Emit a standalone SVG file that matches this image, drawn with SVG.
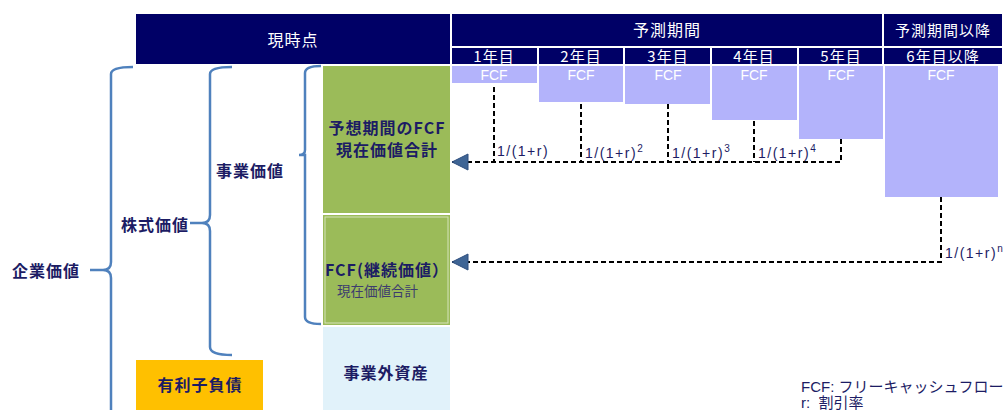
<svg xmlns="http://www.w3.org/2000/svg" width="1008" height="410" viewBox="0 0 1008 410">
<defs>
<style>
.hd{fill:#000066}
.ht{fill:#fff;font-family:"Noto Sans CJK JP","Liberation Sans",sans-serif;text-anchor:middle;letter-spacing:1px}
.bar{fill:#b3b3fb}
.ft{fill:#fff;font-family:"Liberation Sans",sans-serif;font-size:14px;text-anchor:middle}
.lb{fill:#1c1c64;font-family:"Noto Sans CJK JP","Liberation Sans",sans-serif;font-weight:bold;font-size:16px;letter-spacing:1px}
.fr{fill:#1c1c64;font-family:"Liberation Sans","Noto Sans CJK JP",sans-serif;font-size:14px;letter-spacing:1.5px}
.br{fill:none;stroke:#4f81bd;stroke-width:2.5}
.dl{fill:none;stroke:#000;stroke-width:2;stroke-dasharray:5 3}
</style>
<marker id="ah" markerUnits="userSpaceOnUse" markerWidth="18" markerHeight="18" viewBox="0 0 18 18" refX="17" refY="9" orient="auto">
<path d="M17 9 L1 1 L1 17 Z" fill="#3f6595" stroke="#2f4f7f" stroke-width="1"/>
</marker>
</defs>

<g id="header-now">
<rect class="hd" x="136" y="14" width="314" height="50"/>
<text class="ht" x="293" y="46" font-size="16">現時点</text>
</g>
<g id="header-forecast">
<rect class="hd" x="452" y="14" width="430" height="32"/>
<text class="ht" x="667" y="36" font-size="16">予測期間</text>
</g>
<g id="header-after">
<rect class="hd" x="884" y="14" width="118" height="32"/>
<text class="ht" x="943" y="36" font-size="15">予測期間以降</text>
</g>
<g id="years">
<rect class="hd" x="452" y="48" width="85" height="16"/>
<rect class="hd" x="539" y="48" width="84" height="16"/>
<rect class="hd" x="625" y="48" width="85" height="16"/>
<rect class="hd" x="712" y="48" width="85" height="16"/>
<rect class="hd" x="799" y="48" width="83" height="16"/>
<rect class="hd" x="884" y="48" width="118" height="16"/>
<text class="ht" x="494" y="62" font-size="15">1年目</text>
<text class="ht" x="581" y="62" font-size="15">2年目</text>
<text class="ht" x="668" y="62" font-size="15">3年目</text>
<text class="ht" x="754" y="62" font-size="15">4年目</text>
<text class="ht" x="841" y="62" font-size="15">5年目</text>
<text class="ht" x="943" y="62" font-size="15">6年目以降</text>
</g>
<g id="fcf-bars">
<rect class="bar" x="452" y="66" width="85" height="17"/>
<rect class="bar" x="539" y="66" width="84" height="36"/>
<rect class="bar" x="625" y="66" width="85" height="38"/>
<rect class="bar" x="712" y="66" width="85" height="54"/>
<rect class="bar" x="799" y="66" width="84" height="73"/>
<rect class="bar" x="885" y="66" width="113" height="131"/>
<text class="ft" x="494" y="80">FCF</text>
<text class="ft" x="581" y="80">FCF</text>
<text class="ft" x="668" y="80">FCF</text>
<text class="ft" x="754" y="80">FCF</text>
<text class="ft" x="841" y="80">FCF</text>
<text class="ft" x="941" y="80">FCF</text>
</g>

<g id="pv-forecast">
<rect x="323" y="66" width="127" height="147" fill="#9bbb59"/>
<text class="lb" x="387" y="134" text-anchor="middle">予想期間のFCF</text>
<text class="lb" x="387" y="156" text-anchor="middle">現在価値合計</text>
</g>
<g id="pv-terminal">
<rect x="323" y="215" width="127" height="110" fill="#9bbb59"/>
<rect x="325" y="217" width="123" height="106" fill="none" stroke="#d5e3bb" stroke-width="1"/>
<text class="lb" x="387" y="276" text-anchor="middle">FCF(継続価値）</text>
<text x="337" y="296" fill="#3c3c6e" font-family="'Noto Sans CJK JP',sans-serif" font-size="13.5">現在価値合計</text>
</g>
<g id="non-op">
<rect x="323" y="327" width="127" height="83" fill="#e1f2fa"/>
<text class="lb" x="386" y="379" text-anchor="middle">事業外資産</text>
</g>
<g id="debt">
<rect x="136" y="360" width="127" height="50" fill="#ffc000"/>
<text class="lb" x="200" y="391" text-anchor="middle">有利子負債</text>
</g>

<g id="labels">
<text class="lb" x="12" y="277">企業価値</text>
<text class="lb" x="121" y="231">株式価値</text>
<text class="lb" x="216" y="177">事業価値</text>
</g>

<g id="braces">
<path class="br" d="M133 67 Q111 67 111 74 L111 262 Q111 270 103 270 L90 270 L103 270 Q111 270 111 278 L111 412"/>
<path class="br" d="M232 67 Q210 67 210 74 L210 215 Q210 223 202 223 L190 223 L202 223 Q210 223 210 231 L210 347 Q210 355 232 355"/>
<path class="br" d="M321 66 Q305 66 305 73 L305 150 Q305 155 299 155 L305 155 Q305 160 305 165 L305 317 Q305 324 321 324"/>
</g>

<g id="connectors">
<path class="dl" d="M494 87 V162"/>
<path class="dl" d="M581 104 V162"/>
<path class="dl" d="M668 104 V162"/>
<path class="dl" d="M754 121 V162"/>
<path class="dl" d="M841 139 V162 H452" marker-end="url(#ah)"/>
<path class="dl" d="M941 197 V262 H452" marker-end="url(#ah)"/>
<text class="fr" x="497" y="156">1/(1+r)</text>
<text class="fr" x="585" y="158">1/(1+r)<tspan font-size="10" dy="-6">2</tspan></text>
<text class="fr" x="672" y="158">1/(1+r)<tspan font-size="10" dy="-6">3</tspan></text>
<text class="fr" x="758" y="158">1/(1+r)<tspan font-size="10" dy="-6">4</tspan></text>
<text class="fr" x="945" y="258">1/(1+r)<tspan font-size="10" dy="-6">n</tspan></text>
</g>

<g id="legend">
<text x="801" y="392" fill="#1c1c64" font-family="'Liberation Sans','Noto Sans CJK JP',sans-serif" font-size="15">FCF: フリーキャッシュフロー</text>
<text x="801" y="408" fill="#1c1c64" font-family="'Liberation Sans','Noto Sans CJK JP',sans-serif" font-size="15" xml:space="preserve">r:  割引率</text>
</g>
</svg>
